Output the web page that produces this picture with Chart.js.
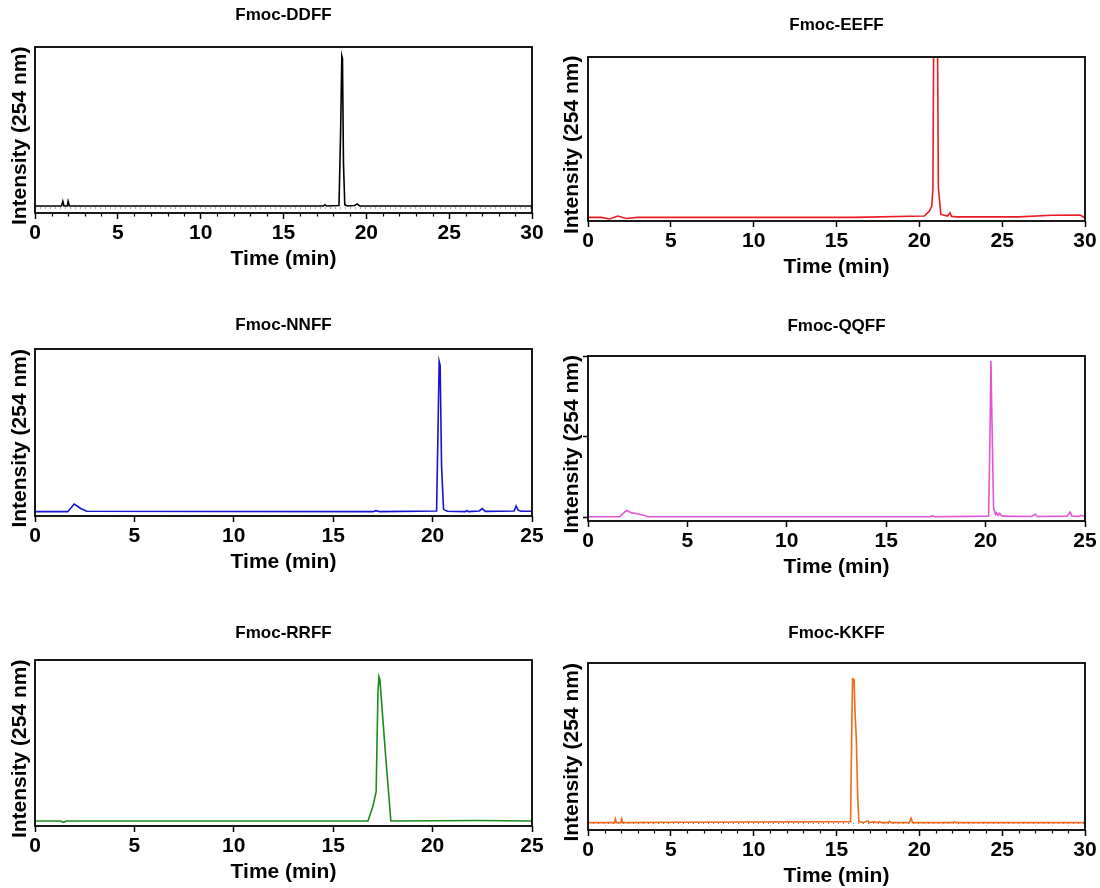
<!DOCTYPE html>
<html>
<head>
<meta charset="utf-8">
<title>Fmoc-XXFF HPLC</title>
<script src="https://cdn.jsdelivr.net/npm/chart.js@4.4.0/dist/chart.umd.min.js"></script>
<style>
  html, body { margin: 0; padding: 0; background: #fff; overflow: hidden; }
  #page { position: relative; width: 1100px; height: 888px; }
  #page canvas { position: absolute; }
</style>
</head>
<body>
<div id="page"></div>
<script>
// HPLC traces at 254 nm, intensity normalised to the plot height
const ticks30 = [0, 5, 10, 15, 20, 25, 30];
const ticks25 = [0, 5, 10, 15, 20, 25];

const ddffTime   = [0, 1.6, 1.68, 1.75, 1.95, 2.0, 2.08, 17.4, 17.5, 17.6, 18.35, 18.45, 18.52, 18.56, 18.62, 18.7, 18.85, 19.3, 19.45, 19.6, 30];
const ddffSignal = [0.042, 0.042, 0.07, 0.042, 0.042, 0.07, 0.042, 0.042, 0.05, 0.042, 0.045, 0.5, 0.946, 0.93, 0.3, 0.05, 0.042, 0.045, 0.055, 0.043, 0.042];

const eeffTime   = [0, 0.8, 1.3, 1.8, 2.3, 3, 16, 20.3, 20.6, 20.75, 20.82, 20.88, 21.08, 21.15, 21.3, 21.7, 21.85, 21.95, 22.3, 26, 28, 29.7, 30];
const eeffSignal = [0.022, 0.022, 0.012, 0.03, 0.015, 0.022, 0.022, 0.03, 0.06, 0.09, 0.2, 1.4, 1.4, 0.2, 0.04, 0.03, 0.05, 0.028, 0.025, 0.025, 0.035, 0.036, 0.02];

const nnffTime   = [0, 1.65, 1.97, 2.3, 2.6, 17.0, 17.15, 17.35, 20.2, 20.27, 20.33, 20.38, 20.45, 20.55, 20.62, 20.75, 21.65, 21.72, 21.8, 22.35, 22.5, 22.65, 24.1, 24.2, 24.3, 24.45, 25];
const nnffSignal = [0.026, 0.026, 0.072, 0.045, 0.028, 0.026, 0.032, 0.026, 0.03, 0.5, 0.926, 0.9, 0.3, 0.04, 0.035, 0.028, 0.026, 0.033, 0.026, 0.03, 0.044, 0.028, 0.03, 0.06, 0.035, 0.028, 0.028];

const qqffTime   = [0, 1.6, 1.8, 1.95, 2.2, 2.5, 2.8, 3.0, 17.2, 17.33, 17.45, 20.15, 20.22, 20.27, 20.32, 20.4, 20.5, 20.55, 20.62, 20.7, 20.78, 20.85, 22.3, 22.5, 22.6, 24.1, 24.25, 24.35, 24.7, 24.8, 25];
const qqffSignal = [0.006, 0.006, 0.03, 0.045, 0.03, 0.025, 0.015, 0.006, 0.006, 0.012, 0.006, 0.01, 0.5, 0.97, 0.6, 0.06, 0.02, 0.03, 0.015, 0.028, 0.015, 0.01, 0.008, 0.022, 0.008, 0.01, 0.035, 0.01, 0.008, 0.015, 0.008];

const rrffTime   = [0, 1.3, 1.42, 1.6, 2.0, 13.5, 16.75, 17.0, 17.16, 17.25, 17.3, 17.35, 17.62, 17.9, 22.3, 25];
const rrffSignal = [0.03, 0.03, 0.022, 0.03, 0.03, 0.03, 0.03, 0.12, 0.207, 0.8, 0.9, 0.88, 0.45, 0.03, 0.033, 0.03];

const kkffTime   = [0, 1.6, 1.65, 1.72, 1.98, 2.03, 2.1, 6.0, 15.85, 15.92, 15.97, 16.06, 16.12, 16.2, 16.28, 16.35, 16.6, 16.9, 17.0, 17.3, 17.4, 17.6, 17.7, 18.1, 18.2, 18.3, 19.4, 19.5, 19.6, 22.0, 22.1, 22.2, 30];
const kkffSignal = [0.044, 0.044, 0.066, 0.044, 0.044, 0.066, 0.044, 0.046, 0.05, 0.6, 0.906, 0.9, 0.7, 0.54, 0.2, 0.05, 0.044, 0.055, 0.044, 0.05, 0.044, 0.05, 0.044, 0.044, 0.052, 0.044, 0.044, 0.07, 0.044, 0.044, 0.05, 0.044, 0.044];

// dotted blank-run traces
const blankTime = [0, 30];
const ddffBlank = [0.03, 0.03];
const kkffBlank = [0.04, 0.04];

const FONT = '"Liberation Sans", Arial, Helvetica, sans-serif';
Chart.defaults.font.family = FONT;
Chart.defaults.color = '#000';

const TITLE_SIZE = 17;
const LABEL_SIZE = 21;
// trailing spaces nudge the rotated title a little below the axis centre
const Y_TITLE = 'Intensity (254 nm)  ';

const panels = [
  { name: 'Fmoc-DDFF', time: ddffTime, signal: ddffSignal, blank: ddffBlank, color: '#000000', ticks: ticks30, minor: true,
    left: 0, L: 35, R: 532, T: 47, B: 213, titleY: 15, yTitleX: 20, yMin: 0, yTicks: [] },
  { name: 'Fmoc-EEFF', time: eeffTime, signal: eeffSignal, color: '#ec1c24', ticks: ticks30,
    left: 550, L: 588, R: 1085, T: 57, B: 221, titleY: 25, yTitleX: 22, yMin: 0, yTicks: [] },
  { name: 'Fmoc-NNFF', time: nnffTime, signal: nnffSignal, color: '#1414d2', ticks: ticks25,
    left: 0, L: 35, R: 532, T: 349, B: 516, titleY: 325, yTitleX: 20, yMin: 0, yTicks: [] },
  { name: 'Fmoc-QQFF', time: qqffTime, signal: qqffSignal, color: '#e455d4', ticks: ticks25,
    left: 550, L: 588, R: 1085, T: 356, B: 521, titleY: 326, yTitleX: 22, yMin: -0.02, yTicks: [0, 0.5, 1] },
  { name: 'Fmoc-RRFF', time: rrffTime, signal: rrffSignal, color: '#1c8a1c', ticks: ticks25,
    left: 0, L: 35, R: 532, T: 660, B: 826, titleY: 633, yTitleX: 20, yMin: 0, yTicks: [] },
  { name: 'Fmoc-KKFF', time: kkffTime, signal: kkffSignal, blank: kkffBlank, color: '#f06a1c', ticks: ticks30, minor: true,
    left: 550, L: 588, R: 1085, T: 663, B: 830, titleY: 633, yTitleX: 22, yMin: 0, yTicks: [] }
];

const toPoints = (t, v) => t.map((x, i) => ({ x: x, y: v[i] }));

// box around the plot area plus 1-min minor ticks
const framePlugin = {
  id: 'frame',
  afterDraw(chart, args, opts) {
    const { ctx, chartArea: a } = chart;
    const x = chart.scales.x;
    ctx.save();
    ctx.strokeStyle = '#000';
    ctx.lineWidth = 1.8;
    ctx.strokeRect(a.left, a.top, a.right - a.left, a.bottom - a.top);
    if (opts.minor) {
      ctx.lineWidth = 1.2;
      ctx.beginPath();
      for (let v = x.min + 1; v < x.max; v++) {
        if (v % 5 === 0) continue;
        const px = Math.round(x.getPixelForValue(v)) + 0.5;
        ctx.moveTo(px, a.bottom);
        ctx.lineTo(px, a.bottom + 3.5);
      }
      ctx.stroke();
    }
    ctx.restore();
  }
};

const page = document.getElementById('page');

panels.forEach(p => {
  const top = p.T - 45;
  const width = 550;
  const height = (p.B - p.T) + 45 + 62;
  const titleLH = TITLE_SIZE * 1.2;
  const padTop = p.titleY - top - titleLH / 2;
  const titleGap = 45 - padTop - titleLH;

  const canvas = document.createElement('canvas');
  canvas.width = width;
  canvas.height = height;
  canvas.style.left = p.left + 'px';
  canvas.style.top = top + 'px';
  page.appendChild(canvas);

  const datasets = [{
    data: toPoints(p.time, p.signal),
    borderColor: p.color,
    borderWidth: 1.6,
    pointRadius: 0,
    tension: 0
  }];
  if (p.blank) {
    datasets.push({
      data: toPoints(blankTime, p.blank),
      borderColor: '#555',
      borderWidth: 1,
      borderDash: [1, 4],
      pointRadius: 0
    });
  }

  new Chart(canvas, {
    type: 'line',
    data: { datasets: datasets },
    plugins: [framePlugin],
    options: {
      responsive: false,
      animation: false,
      events: [],
      layout: { padding: { top: padTop, left: 0, right: p.left + width - p.R, bottom: 0 } },
      plugins: {
        legend: { display: false },
        tooltip: { enabled: false },
        title: {
          display: true,
          fullSize: false,
          text: p.name,
          color: '#000',
          font: { size: TITLE_SIZE, weight: 'bold', lineHeight: 1.2 },
          padding: { top: 0, bottom: titleGap }
        },
        frame: { minor: !!p.minor }
      },
      scales: {
        x: {
          type: 'linear',
          min: 0,
          max: p.ticks[p.ticks.length - 1],
          afterBuildTicks: s => { s.ticks = p.ticks.map(v => ({ value: v })); },
          afterFit: s => { s.height = 62; },
          ticks: { font: { size: LABEL_SIZE, weight: 'bold' }, padding: 2, maxRotation: 0, autoSkip: false, color: '#000' },
          grid: { drawOnChartArea: false, drawTicks: true, tickLength: 6, color: '#000', tickWidth: 1.5 },
          border: { display: false },
          title: {
            display: true,
            text: 'Time (min)',
            color: '#000',
            font: { size: LABEL_SIZE, weight: 'bold', lineHeight: 1.2 },
            padding: { top: 0, bottom: 3 }
          }
        },
        y: {
          type: 'linear',
          min: p.yMin,
          max: 1,
          afterBuildTicks: s => {
            if (p.yTicks.length) s.ticks = p.yTicks.map(v => ({ value: v }));
          },
          afterFit: s => { s.width = p.L - p.left; },
          ticks: { display: false },
          grid: {
            display: p.yTicks.length > 0,
            drawOnChartArea: false,
            drawTicks: true,
            tickLength: 5,
            color: '#000',
            tickWidth: 1.5
          },
          border: { display: false },
          title: {
            display: true,
            text: Y_TITLE,
            color: '#000',
            font: { size: LABEL_SIZE, weight: 'bold', lineHeight: 1.2 },
            padding: { top: p.yTitleX - LABEL_SIZE * 0.6, bottom: 0 }
          }
        }
      }
    }
  });
});
</script>
</body>
</html>
